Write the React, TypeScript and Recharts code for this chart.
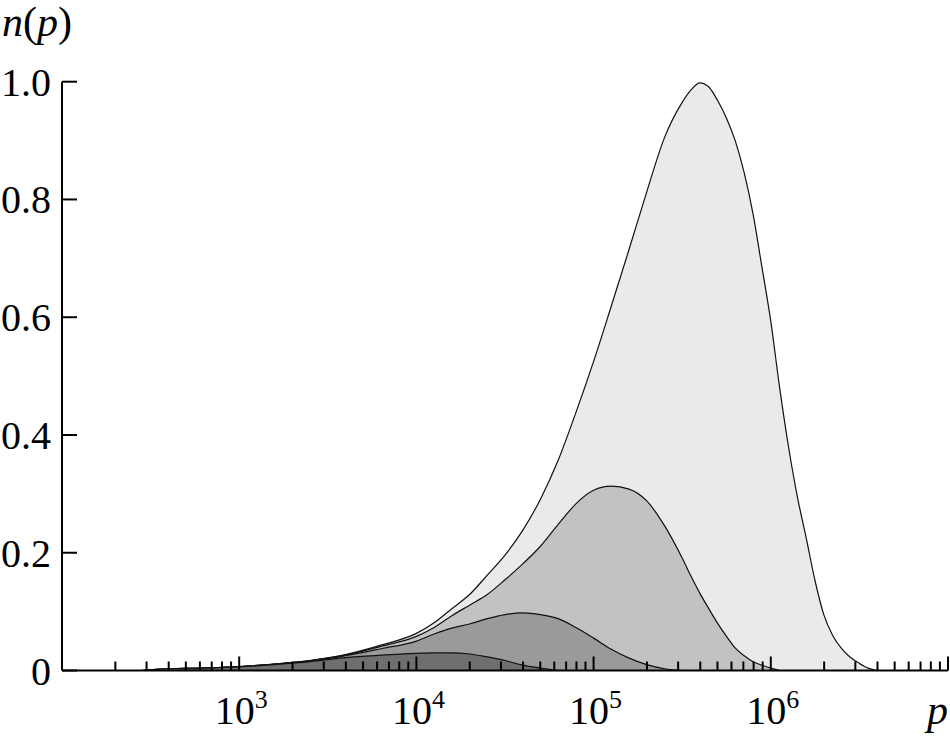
import React from 'react';
import { ComposedChart, Area, XAxis, YAxis } from 'recharts';

// x positions as log10(p)
const logP = [
  2.45, 2.6, 2.8, 3.0, 3.2, 3.4, 3.6, 3.8, 4.0, 4.1, 4.2, 4.3, 4.4, 4.5, 4.6, 4.7,
  4.8, 4.9, 5.0, 5.1, 5.2, 5.3, 5.4, 5.5, 5.55, 5.6, 5.65, 5.7, 5.75, 5.8, 5.85,
  5.9, 5.95, 6.0, 6.05, 6.1, 6.15, 6.2, 6.25, 6.3, 6.35, 6.4, 6.45, 6.5, 6.55, 6.6,
];

// largest, light curve
const curveA = [
  0, 0.003, 0.004, 0.0065, 0.011, 0.017, 0.027, 0.043, 0.063, 0.081, 0.105, 0.129,
  0.162, 0.196, 0.238, 0.291, 0.357, 0.438, 0.525, 0.619, 0.715, 0.813, 0.905,
  0.965, 0.986, 0.998, 0.991, 0.968, 0.938, 0.899, 0.845, 0.775, 0.685, 0.593,
  0.48, 0.38, 0.295, 0.225, 0.152, 0.094, 0.059, 0.037, 0.022, 0.012, 0.004, 0,
];

const curveB = [
  0, 0.003, 0.004, 0.0065, 0.011, 0.017, 0.026, 0.041, 0.058, 0.073, 0.093, 0.111,
  0.129, 0.154, 0.181, 0.211, 0.248, 0.283, 0.306, 0.313, 0.308, 0.288, 0.246,
  0.191, 0.16, 0.131, 0.105, 0.08, 0.058, 0.038, 0.025, 0.015, 0.009, 0.004, 0,
];

const curveC = [
  0, 0.003, 0.004, 0.0065, 0.011, 0.016, 0.025, 0.037, 0.05, 0.062, 0.072, 0.079,
  0.088, 0.095, 0.098, 0.095, 0.088, 0.073, 0.055, 0.036, 0.021, 0.01, 0.003, 0,
];

// smallest, darkest curve
const curveD = [
  0, 0.003, 0.004, 0.006, 0.01, 0.015, 0.022, 0.026, 0.029, 0.03, 0.03, 0.028,
  0.023, 0.017, 0.009, 0.004, 0,
];

const yTicks = [0, 0.2, 0.4, 0.6, 0.8, 1.0];
const decades = [1e2, 1e3, 1e4, 1e5, 1e6];
const minorSteps = [2, 3, 4, 5, 6, 7, 8, 9];
const labelledPowers = [3, 4, 5, 6];

const xTicks: number[] = [];
decades.forEach((d) => {
  minorSteps.forEach((k) => xTicks.push(k * d));
  xTicks.push(d * 10);
});

const at = (arr: number[], i: number) => (i < arr.length ? arr[i] : null);

const data = logP.map((e, i) => ({
  p: Math.pow(10, e),
  a: at(curveA, i),
  b: at(curveB, i),
  c: at(curveC, i),
  d: at(curveD, i),
}));

const FONT = '"Liberation Serif", "Times New Roman", serif';

const XTick = (props: any) => {
  const { x, y, payload } = props;
  const lg = Math.log10(payload.value);
  const power = Math.round(lg);
  const isMajor = Math.abs(lg - power) < 1e-6;
  const len = isMajor ? 14 : 9;
  return (
    <g>
      <line x1={x} x2={x} y1={y} y2={y - len} stroke="#000" strokeWidth={2} />
      {isMajor && labelledPowers.includes(power) && (
        <text x={x + 2} y={y + 53} textAnchor="middle" fontFamily={FONT} fontSize={40} fill="#000">
          10
          <tspan dy={-16} fontSize={26}>
            {power}
          </tspan>
        </text>
      )}
    </g>
  );
};

const YTick = (props: any) => {
  const { x, y, payload } = props;
  const v = payload.value as number;
  return (
    <g>
      <line x1={x} x2={x + 15} y1={y} y2={y} stroke="#000" strokeWidth={2} />
      <text x={x - 11} y={y + 14} textAnchor="end" fontFamily={FONT} fontSize={40} fill="#000">
        {v === 0 ? '0' : v.toFixed(1)}
      </text>
    </g>
  );
};

export default function App() {
  return (
    <div style={{ position: 'absolute', left: 0, top: 0, width: 950, height: 736 }}>
      <ComposedChart
        width={950}
        height={736}
        data={data}
        margin={{ top: 81.7, right: 2, bottom: 35.5, left: 2 }}
      >
        <Area
          type="monotone"
          dataKey="a"
          fill="#eaeaea"
          fillOpacity={1}
          stroke="#111"
          strokeWidth={1.2}
          isAnimationActive={false}
        />
        <Area
          type="monotone"
          dataKey="b"
          fill="#c2c2c2"
          fillOpacity={1}
          stroke="#111"
          strokeWidth={1.2}
          isAnimationActive={false}
        />
        <Area
          type="monotone"
          dataKey="c"
          fill="#9a9a9a"
          fillOpacity={1}
          stroke="#111"
          strokeWidth={1.2}
          isAnimationActive={false}
        />
        <Area
          type="monotone"
          dataKey="d"
          fill="#6f6f6f"
          fillOpacity={1}
          stroke="#111"
          strokeWidth={1.2}
          isAnimationActive={false}
        />
        <XAxis
          dataKey="p"
          type="number"
          scale="log"
          domain={[100, 1e7]}
          allowDataOverflow
          ticks={xTicks}
          interval={0}
          height={30}
          tickSize={0}
          tickMargin={0}
          tickLine={false}
          axisLine={{ stroke: '#000', strokeWidth: 2 }}
          tick={<XTick />}
        />
        <YAxis
          type="number"
          domain={[0, 1]}
          ticks={yTicks}
          interval={0}
          width={60}
          tickSize={0}
          tickMargin={0}
          tickLine={false}
          axisLine={{ stroke: '#000', strokeWidth: 2 }}
          tick={<YTick />}
        />
      </ComposedChart>
      <svg
        width={950}
        height={736}
        style={{ position: 'absolute', left: 0, top: 0, pointerEvents: 'none' }}
      >
        <text x={2} y={36} fontFamily={FONT} fontSize={42} fill="#000">
          <tspan fontStyle="italic">n</tspan>(<tspan fontStyle="italic">p</tspan>)
        </text>
        <text x={948} y={724} textAnchor="end" fontFamily={FONT} fontSize={42} fontStyle="italic" fill="#000">
          p
        </text>
      </svg>
    </div>
  );
}
